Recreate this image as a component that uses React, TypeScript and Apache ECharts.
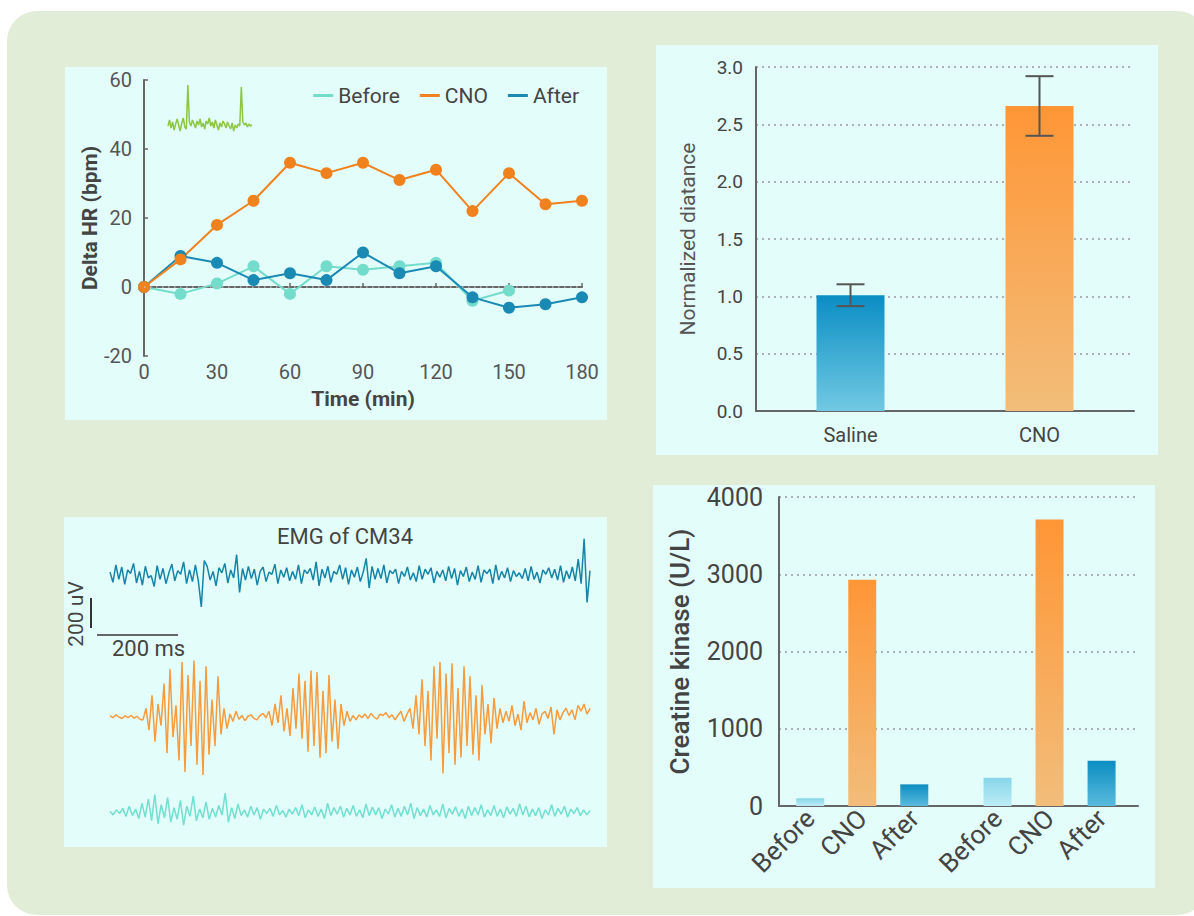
import React, { useEffect, useRef } from 'react';
import * as echarts from 'echarts';

// ---------- Data ----------
const hrTimes = [0, 15, 30, 45, 60, 75, 90, 105, 120, 135, 150, 165, 180];
const hrBefore = [0, -2, 1, 6, -2, 6, 5, 6, 7, -4, -1, null, null];
const hrCNO = [0, 8, 18, 25, 36, 33, 36, 31, 34, 22, 33, 24, 25];
const hrAfter = [0, 9, 7, 2, 4, 2, 10, 4, 6, -3, -6, -5, -3];
const hrLegend = ['Before', 'CNO', 'After'];

const ecgTrace = [
  8, 14, 6, 12, 4, 10, 15, 9, 3, 11, 16, 7, 5, 49, 12, 8, 14, 10, 6, 13,
  9, 15, 7, 11, 5, 13, 10, 16, 8, 12, 6, 14, 9, 4, 11, 7, 13, 10, 6, 12,
  8, 5, 11, 3, 9, 6, 10, 8, 47, 12, 9, 11, 7, 10, 8, 9,
];

const distCategories = ['Saline', 'CNO'];
const distMeans = [1.01, 2.66];
const distErrors = [0.095, 0.26];

const ckLabels = ['Before', 'CNO', 'After', 'Before', 'CNO', 'After'];
const ckValues = [100, 2930, 280, 365, 3710, 585];

const emgAfter = [
  20, -50, 70, -30, 55, -65, 35, 10, 80, -55, 25, -70, 60, -20, -5, -80, 65, -30, 45, -60,
  15, 75, -40, 30, 5, 90, -60, 35, -45, 70, -40, -220, 100, 60, -35, 25, -75, 50, 15, 80,
  -55, 35, -20, 140, -120, 45, -35, 60, -25, 40, -70, 25, 55, -45, 20, 5, 75, -60, 35, -15,
  50, -40, 25, -30, 70, -60, 35, 10, 45, -35, 90, -75, 40, -20, 60, -50, 25, 5, 70, -30,
  50, -65, 35, -15, 55, -45, 20, 115, -90, 60, -30, 45, -25, 70, -55, 30, 10, 40, -60, 25,
  -10, 55, -35, 15, -45, 65, -30, 40, 5, 50, -55, 25, -15, 35, -40, 60, -25, 45, -70, 30,
  -10, 55, -45, 20, -30, 65, -50, 35, 10, 40, -60, 70, -35, 25, -20, 50, -45, 30, -10, 15,
  -25, 45, -40, 60, -30, 20, -55, 35, 5, 50, -20, 40, -35, 65, -50, 30, -25, 55, -40, 110,
  -60, 250, -190, 30,
];

const emgCNO = [
  10, -5, 15, 0, -10, 8, -5, 12, -8, 5, -15, -20,
  60, -90, 150, -170, 90, -60, 230, -250, 330, -140, 80, -300, 380, -380, 290, -200, 390, -330,
  250, -400, 350, -260, 120, -200, 280, -120, 60, -80,
  20, -30, 40, -15, 10, -25, 5, 15, -10, -20, 10, 25, -5,
  40, -60, 90, -40, 150, -100, 60, -130, 200, -80, 300, -150, 250, -240, 320, -200, 310, -280,
  180, -250, 290, -170, 120, -220, 90, -60, 40, -30,
  10, -20, 15, -5, 20, -10, 25, 0, -15, 20, 10, 30, -5, 15, -20, 10, 40, -30, 20,
  60, -80, 150, -120, 260, -200, 180, -300, 350, -150, 380, -390, 300, -250, 370, -330, 200, -280,
  350, -200, 280, -260, 150, -300, 220, -120, 90, -180, 130, -80, 60, -40,
  40, -30, 80, -60, 20, -90, 110, -40, 30, -20, 60, -50, 20, 40, -10, 70, -120, 50, -20, 30,
  60, 10, 50, -20, 80, 40, 90, 20, 60,
];

const emgBefore = [
  5, -20, 15, -10, 25, -30, 40, -25, 20, -45, 60, -35, 90, -60, 120, -80, 50, -40, 100, -70,
  30, -50, 80, -90, 40, -30, 110, -60, 20, -40, 70, -50, 25, -35, 45, -20, 130, -70, 30, -45,
  55, -25, 15, -35, 40, -20, 30, -50, 20, -10, 25, -30, 45, -20, 10, -35, 20, -15, 30, -25,
  50, -40, 15, -20, 35, -30, 20, -45, 60, -25, 30, -15, 40, -35, 25, -20, 45, -30, 15, -40,
  55, -25, 35, -20, 30, -45, 20, -15, 50, -35, 25, -30, 40, -20, 60, -45, 30, -25, 20, -35,
  45, -20, 15, -30, 55, -40, 25, -15, 35, -30, 20, -45, 40, -25, 30, -20, 50, -35, 15, -25,
  45, -30, 20, -40, 35, -15, 25, -30, 55, -20, 40, -35, 20, -25, 30, -45, 15, -20, 50, -30,
  25, -15, 40, -35, 20, -10, 30, -25, 15, -20, 10,
];

// ---------- Styles ----------
const C_BEFORE = '#74dccb';
const C_CNO = '#f0821e';
const C_AFTER = '#1a8ab5';
const FONT = 'Roboto';

const grad = (top: string, bottom: string) =>
  new echarts.graphic.LinearGradient(0, 0, 0, 1, [
    { offset: 0, color: top },
    { offset: 1, color: bottom },
  ]);

const ckColors: Record<string, [string, string]> = {
  Before: ['#86d6ea', '#bdecf5'],
  CNO: ['#ff9636', '#f2bd7a'],
  After: ['#0b8dc2', '#5abbdc'],
};
const distColors: [string, string][] = [
  ['#0a8ec4', '#72c9e3'],
  ['#ff9636', '#f2bd7a'],
];

function buildOption() {
  const ckPos = ckLabels.map((_, k) => 3 + Math.floor(k / 3) * 18 + (k % 3) * 5);
  const ckLabelMap: Record<number, string> = {};
  ckPos.forEach((p, k) => (ckLabelMap[p] = ckLabels[k]));

  const axisLineGray = { show: true, lineStyle: { color: '#666', width: 2 } };
  const dotted = { show: true, lineStyle: { type: [2, 4], color: '#999', width: 1.5 } };

  const hiddenCat = (gi: number, n: number) => ({
    type: 'category',
    gridIndex: gi,
    show: false,
    boundaryGap: false,
    data: Array.from({ length: n }, (_, i) => i),
  });
  const hiddenVal = (gi: number, min: number, max: number) => ({
    type: 'value',
    gridIndex: gi,
    show: false,
    min,
    max,
    splitLine: { show: false },
  });

  const emgLine = (name: string, data: number[], idx: number, color: string) => ({
    name,
    type: 'line',
    xAxisIndex: idx,
    yAxisIndex: idx,
    data,
    showSymbol: false,
    symbol: 'none',
    silent: true,
    lineStyle: { color, width: 1.5 },
  });

  return {
    animation: false,
    textStyle: { fontFamily: FONT },
    legend: {
      data: hrLegend,
      right: 610,
      top: 80,
      icon: 'rect',
      itemWidth: 20,
      itemHeight: 3,
      itemGap: 20,
      textStyle: { fontSize: 21, color: '#444', fontFamily: FONT },
    },
    grid: [
      { left: 144, top: 80, width: 438, height: 276 },
      { left: 168, top: 84, width: 84, height: 50 },
      { left: 756, top: 67, width: 378, height: 344 },
      { left: 779, top: 497, width: 359, height: 309 },
      { left: 110, top: 517, width: 480, height: 116 },
      { left: 110, top: 659, width: 480, height: 116 },
      { left: 110, top: 754, width: 480, height: 116 },
    ],
    xAxis: [
      {
        type: 'value',
        gridIndex: 0,
        min: 0,
        max: 180,
        interval: 30,
        name: 'Time (min)',
        nameLocation: 'middle',
        nameGap: 32,
        nameTextStyle: { fontSize: 21, fontWeight: 'bold', color: '#444', fontFamily: FONT },
        axisLine: axisLineGray,
        axisTick: { show: true, inside: true, length: 4, lineStyle: { color: '#666', width: 1.5 } },
        axisLabel: { fontSize: 20, color: '#555', margin: 6 },
        splitLine: { show: false },
      },
      hiddenCat(1, ecgTrace.length),
      {
        type: 'category',
        gridIndex: 2,
        data: distCategories,
        axisLine: axisLineGray,
        axisTick: { show: false },
        axisLabel: { fontSize: 20, color: '#444', margin: 14 },
        splitLine: { show: false },
      },
      {
        type: 'value',
        gridIndex: 3,
        min: 0,
        max: 34.5,
        interval: 1,
        axisLine: axisLineGray,
        axisTick: { show: false },
        splitLine: { show: false },
        axisLabel: {
          rotate: 45,
          fontSize: 26,
          color: '#444',
          margin: 8,
          showMaxLabel: false,
          formatter: (v: number) => ckLabelMap[v] ?? '',
        },
      },
      hiddenCat(4, emgAfter.length),
      hiddenCat(5, emgCNO.length),
      hiddenCat(6, emgBefore.length),
    ],
    yAxis: [
      {
        type: 'value',
        gridIndex: 0,
        min: -20,
        max: 60,
        interval: 20,
        name: 'Delta HR (bpm)',
        nameLocation: 'middle',
        nameGap: 44,
        nameTextStyle: { fontSize: 21, fontWeight: 'bold', color: '#444', fontFamily: FONT },
        axisLine: axisLineGray,
        axisTick: { show: true, inside: true, length: 4, lineStyle: { color: '#666', width: 1.5 } },
        axisLabel: { fontSize: 20, color: '#555', margin: 12 },
        splitLine: { show: false },
      },
      hiddenVal(1, 0, 50),
      {
        type: 'value',
        gridIndex: 2,
        min: 0,
        max: 3,
        interval: 0.5,
        name: 'Normalized diatance',
        nameLocation: 'middle',
        nameGap: 58,
        nameTextStyle: { fontSize: 21, color: '#555', fontFamily: FONT },
        axisLine: axisLineGray,
        axisTick: { show: false },
        axisLabel: { fontSize: 19, color: '#444', margin: 13, formatter: (v: number) => v.toFixed(1) },
        splitLine: dotted,
      },
      {
        type: 'value',
        gridIndex: 3,
        min: 0,
        max: 4000,
        interval: 1000,
        name: 'Creatine kinase (U/L)',
        nameLocation: 'middle',
        nameGap: 86,
        nameTextStyle: { fontSize: 26, fontWeight: 500, color: '#444', fontFamily: FONT },
        axisLine: axisLineGray,
        axisTick: { show: false },
        axisLabel: { fontSize: 25, color: '#444', margin: 16, formatter: (v: number) => String(v) },
        splitLine: dotted,
      },
      hiddenVal(4, -400, 400),
      hiddenVal(5, -400, 400),
      hiddenVal(6, -400, 400),
    ],
    graphic: [
      {
        type: 'text',
        x: 345,
        y: 536,
        silent: true,
        style: {
          text: 'EMG of CM34',
          font: `normal 22px ${FONT}`,
          fill: '#444',
          align: 'center',
          verticalAlign: 'middle',
          textAlign: 'center',
          textVerticalAlign: 'middle',
        },
      },
      {
        type: 'line',
        silent: true,
        shape: { x1: 91, y1: 598, x2: 91, y2: 628 },
        style: { stroke: '#333', lineWidth: 2 },
      },
      {
        type: 'line',
        silent: true,
        shape: { x1: 97, y1: 635, x2: 178, y2: 635 },
        style: { stroke: '#666', lineWidth: 2 },
      },
      {
        type: 'text',
        x: 112,
        y: 648,
        silent: true,
        style: {
          text: '200 ms',
          font: `normal 22px ${FONT}`,
          fill: '#444',
          align: 'left',
          verticalAlign: 'middle',
          textAlign: 'left',
          textVerticalAlign: 'middle',
        },
      },
      {
        type: 'text',
        x: 76,
        y: 614,
        rotation: Math.PI / 2,
        silent: true,
        style: {
          text: '200 uV',
          font: `normal 21px ${FONT}`,
          fill: '#444',
          align: 'center',
          verticalAlign: 'middle',
          textAlign: 'center',
          textVerticalAlign: 'middle',
        },
      },
    ],
    series: [
      {
        name: 'Before',
        type: 'line',
        xAxisIndex: 0,
        yAxisIndex: 0,
        data: hrTimes.map((t, i) => [t, hrBefore[i]]),
        symbol: 'circle',
        symbolSize: 12,
        itemStyle: { color: C_BEFORE },
        lineStyle: { color: C_BEFORE, width: 2 },
        markLine: {
          silent: true,
          symbol: 'none',
          label: { show: false },
          lineStyle: { type: [1.5, 4.5], color: '#bbb', width: 1.5 },
          data: [{ yAxis: 0 }],
        },
      },
      {
        name: 'After',
        type: 'line',
        xAxisIndex: 0,
        yAxisIndex: 0,
        data: hrTimes.map((t, i) => [t, hrAfter[i]]),
        symbol: 'circle',
        symbolSize: 12,
        itemStyle: { color: C_AFTER },
        lineStyle: { color: C_AFTER, width: 2 },
      },
      {
        name: 'CNO',
        type: 'line',
        xAxisIndex: 0,
        yAxisIndex: 0,
        data: hrTimes.map((t, i) => [t, hrCNO[i]]),
        symbol: 'circle',
        symbolSize: 12,
        itemStyle: { color: C_CNO },
        lineStyle: { color: C_CNO, width: 2 },
      },
      {
        name: 'ECG',
        type: 'line',
        xAxisIndex: 1,
        yAxisIndex: 1,
        data: ecgTrace,
        symbol: 'none',
        silent: true,
        lineStyle: { color: '#8dc641', width: 1.5 },
      },
      {
        name: 'Distance',
        type: 'bar',
        xAxisIndex: 2,
        yAxisIndex: 2,
        barWidth: 68,
        data: distMeans.map((m, i) => ({
          value: m,
          itemStyle: { color: grad(distColors[i][0], distColors[i][1]) },
        })),
      },
      {
        name: 'DistanceError',
        type: 'custom',
        xAxisIndex: 2,
        yAxisIndex: 2,
        z: 5,
        silent: true,
        data: distMeans.map((m, i) => [i, m - distErrors[i], m + distErrors[i]]),
        renderItem: (params: any, api: any) => {
          const x = api.value(0);
          const lo = api.coord([x, api.value(1)]);
          const hi = api.coord([x, api.value(2)]);
          const hw = 14;
          const style = { stroke: '#555', lineWidth: 2 };
          return {
            type: 'group',
            children: [
              { type: 'line', shape: { x1: lo[0], y1: lo[1], x2: hi[0], y2: hi[1] }, style },
              { type: 'line', shape: { x1: lo[0] - hw, y1: lo[1], x2: lo[0] + hw, y2: lo[1] }, style },
              { type: 'line', shape: { x1: hi[0] - hw, y1: hi[1], x2: hi[0] + hw, y2: hi[1] }, style },
            ],
          };
        },
      },
      {
        name: 'Creatine kinase',
        type: 'bar',
        xAxisIndex: 3,
        yAxisIndex: 3,
        barWidth: 28,
        data: ckValues.map((v, k) => ({
          value: [ckPos[k], v],
          itemStyle: { color: grad(ckColors[ckLabels[k]][0], ckColors[ckLabels[k]][1]) },
        })),
      },
      emgLine('EMG After', emgAfter, 4, '#1684a7'),
      emgLine('EMG CNO', emgCNO, 5, '#f89b3c'),
      emgLine('EMG Before', emgBefore, 6, '#72dfd0'),
    ],
  };
}

const panel = (left: number, top: number, width: number, height: number): React.CSSProperties => ({
  position: 'absolute',
  left,
  top,
  width,
  height,
  background: '#e3fdfa',
});

export default function App() {
  const ref = useRef<HTMLDivElement>(null);
  useEffect(() => {
    if (!ref.current) return;
    const chart = echarts.init(ref.current, undefined, { renderer: 'svg' });
    chart.setOption(buildOption() as any);
    return () => chart.dispose();
  }, []);

  return (
    <div
      style={{
        position: 'fixed',
        left: 0,
        top: 0,
        width: 1194,
        height: 916,
        background: '#ffffff',
        overflow: 'hidden',
      }}
    >
      <div
        style={{
          position: 'absolute',
          left: 7,
          top: 11,
          width: 1200,
          height: 904,
          borderRadius: 30,
          background: '#e2edd8',
        }}
      />
      <div style={panel(65, 67, 542, 353)} />
      <div style={panel(656, 45, 502, 410)} />
      <div style={panel(64, 517, 543, 330)} />
      <div style={panel(653, 485, 502, 403)} />
      <div ref={ref} style={{ position: 'absolute', left: 0, top: 0, width: 1194, height: 916 }} />
    </div>
  );
}
